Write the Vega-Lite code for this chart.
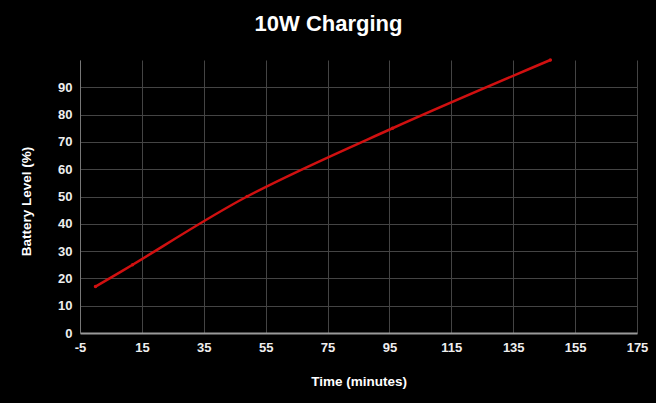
{
  "$schema": "https://vega.github.io/schema/vega-lite/v6.json",
  "autosize": {"type": "none"},
  "width": 557,
  "height": 273,
  "padding": {"left": 80, "top": 60, "right": 19, "bottom": 70},
  "background": "#000000",
  "title": {
    "text": "10W Charging",
    "color": "#ffffff",
    "font": "Liberation Sans",
    "fontSize": 22,
    "fontWeight": "bold",
    "anchor": "middle",
    "dx": -30,
    "offset": 19
  },
  "config": {
    "view": {"stroke": null},
    "axis": {
      "labelFont": "Liberation Sans",
      "labelFontSize": 13,
      "labelFontWeight": "bold",
      "labelColor": "#eeeeee",
      "labelOverlap": false,
      "labelFlush": false,
      "titleFont": "Liberation Sans",
      "titleFontSize": 13.5,
      "titleFontWeight": "bold",
      "titleColor": "#ffffff",
      "gridColor": "#444444",
      "gridWidth": 1,
      "ticks": false,
      "labelPadding": 8
    }
  },
  "data": {
    "values": [
      {"t": 0, "level": 17},
      {"t": 12, "level": 25},
      {"t": 49, "level": 50},
      {"t": 96, "level": 75},
      {"t": 147, "level": 100}
    ]
  },
  "encoding": {
    "x": {
      "field": "t",
      "type": "quantitative",
      "scale": {"domain": [-5, 175], "nice": false, "zero": false},
      "axis": {
        "title": "Time (minutes)",
        "values": [-5, 15, 35, 55, 75, 95, 115, 135, 155, 175],
        "labelExpr": "'' + datum.value",
        "domainColor": "#999999",
        "domainWidth": 2,
        "titlePadding": 20
      }
    },
    "y": {
      "field": "level",
      "type": "quantitative",
      "scale": {"domain": [0, 100], "nice": false},
      "axis": {
        "title": "Battery Level (%)",
        "values": [0, 10, 20, 30, 40, 50, 60, 70, 80, 90],
        "domainColor": "#777777",
        "domainWidth": 1,
        "titlePadding": 24,
        "titleY": 141
      }
    }
  },
  "layer": [
    {
      "mark": {"type": "line", "color": "#d01010", "strokeWidth": 2.5, "interpolate": "catmull-rom"}
    },
    {
      "mark": {"type": "point", "filled": true, "color": "#d01010", "size": 12, "opacity": 1}
    }
  ]
}
